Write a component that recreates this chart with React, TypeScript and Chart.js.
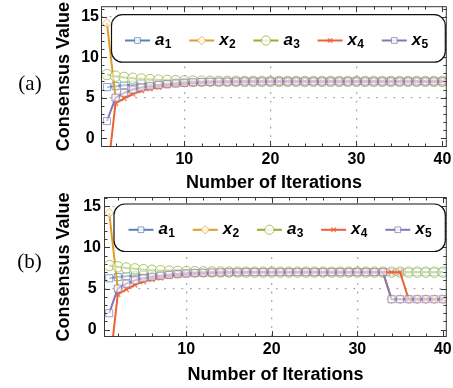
import React, { useEffect, useRef } from 'react';
import { Chart, registerables } from 'chart.js';

Chart.register(...registerables);

// ---------- data ----------
const ITERATIONS = [1, 2, 3, 4, 5, 6, 7, 8, 9, 10, 11, 12, 13, 14, 15, 16, 17, 18, 19, 20,
  21, 22, 23, 24, 25, 26, 27, 28, 29, 30, 31, 32, 33, 34, 35, 36, 37, 38, 39, 40];

// panel (a)
const A1_A = [6.3, 6.42, 6.52, 6.6, 6.67, 6.73, 6.78, 6.83, 6.87, 6.9, 6.92, 6.94, 6.96, 6.97, 6.98, 6.99,
  7.0, 7.0, 7.0, 7.0, 7.0, 7.0, 7.0, 7.0, 7.0, 7.0, 7.0, 7.0, 7.0, 7.0, 7.0, 7.0, 7.0, 7.0, 7.0, 7.0, 7.0, 7.0, 7.0, 7.0];
const X2_A = [14.2, 5.0, 5.6, 6.0, 6.25, 6.45, 6.6, 6.7, 6.78, 6.84, 6.89, 6.93, 6.95, 6.97, 6.98, 6.99,
  7.0, 7.0, 7.0, 7.0, 7.0, 7.0, 7.0, 7.0, 7.0, 7.0, 7.0, 7.0, 7.0, 7.0, 7.0, 7.0, 7.0, 7.0, 7.0, 7.0, 7.0, 7.0, 7.0, 7.0];
const A3_A = [7.85, 7.65, 7.5, 7.4, 7.3, 7.23, 7.17, 7.13, 7.1, 7.07, 7.05, 7.04, 7.03, 7.02, 7.01, 7.01,
  7.0, 7.0, 7.0, 7.0, 7.0, 7.0, 7.0, 7.0, 7.0, 7.0, 7.0, 7.0, 7.0, 7.0, 7.0, 7.0, 7.0, 7.0, 7.0, 7.0, 7.0, 7.0, 7.0, 7.0];
const X4_A = [-5, 4.3, 4.9, 5.45, 5.85, 6.1, 6.3, 6.48, 6.6, 6.7, 6.78, 6.84, 6.88, 6.92, 6.95, 6.97, 6.98, 6.99,
  7.0, 7.0, 7.0, 7.0, 7.0, 7.0, 7.0, 7.0, 7.0, 7.0, 7.0, 7.0, 7.0, 7.0, 7.0, 7.0, 7.0, 7.0, 7.0, 7.0, 7.0, 7.0];
const X5_A = [2.1, 5.0, 5.6, 6.0, 6.25, 6.42, 6.56, 6.67, 6.76, 6.83, 6.88, 6.92, 6.95, 6.97, 6.98, 6.99,
  7.0, 7.0, 7.0, 7.0, 7.0, 7.0, 7.0, 7.0, 7.0, 7.0, 7.0, 7.0, 7.0, 7.0, 7.0, 7.0, 7.0, 7.0, 7.0, 7.0, 7.0, 7.0, 7.0, 7.0];

// panel (b)
const A1_B = [6.25, 6.4, 6.5, 6.6, 6.67, 6.73, 6.78, 6.83, 6.87, 6.9, 6.92, 6.94, 6.96, 6.97, 6.98, 6.99,
  7.0, 7.0, 7.0, 7.0, 7.0, 7.0, 7.0, 7.0, 7.0, 7.0, 7.0, 7.0, 7.0, 7.0, 7.0, 7.0, 7.0, 7.0, 7.0, 7.0, 7.0, 7.0, 7.0, 7.0];
const X2_B = [14.2, 5.0, 5.6, 6.0, 6.25, 6.45, 6.6, 6.7, 6.78, 6.84, 6.89, 6.93, 6.95, 6.97, 6.98, 6.99,
  7.0, 7.0, 7.0, 7.0, 7.0, 7.0, 7.0, 7.0, 7.0, 7.0, 7.0, 7.0, 7.0, 7.0, 7.0, 7.0, 7.0, 3.7, 3.7, 3.7, 3.7, 3.7, 3.7, 3.7];
const A3_B = [7.8, 7.65, 7.5, 7.4, 7.3, 7.23, 7.17, 7.13, 7.1, 7.07, 7.05, 7.04, 7.03, 7.02, 7.01, 7.01,
  7.0, 7.0, 7.0, 7.0, 7.0, 7.0, 7.0, 7.0, 7.0, 7.0, 7.0, 7.0, 7.0, 7.0, 7.0, 7.0, 7.0, 7.0, 7.0, 7.0, 7.0, 7.0, 7.0, 7.0];
const X4_B = [-5, 4.3, 4.9, 5.45, 5.85, 6.1, 6.3, 6.48, 6.6, 6.7, 6.78, 6.84, 6.88, 6.92, 6.95, 6.97, 6.98, 6.99,
  7.0, 7.0, 7.0, 7.0, 7.0, 7.0, 7.0, 7.0, 7.0, 7.0, 7.0, 7.0, 7.0, 7.0, 7.0, 7.0, 7.0, 3.7, 3.7, 3.7, 3.7, 3.7];
const X5_B = [2.0, 5.0, 5.6, 6.0, 6.25, 6.42, 6.56, 6.67, 6.76, 6.83, 6.88, 6.92, 6.95, 6.97, 6.98, 6.99,
  7.0, 7.0, 7.0, 7.0, 7.0, 7.0, 7.0, 7.0, 7.0, 7.0, 7.0, 7.0, 7.0, 7.0, 7.0, 7.0, 7.0, 3.7, 3.7, 3.7, 3.7, 3.7, 3.7, 3.7];

const SERIES_BASE = ['a', 'x', 'a', 'x', 'x'];
const SERIES_SUB = ['1', '2', '3', '4', '5'];
const SERIES_LABELS = ['a₁', 'x₂', 'a₃', 'x₄', 'x₅'];
const SERIES_COLORS = ['#5E81B5', '#E19C24', '#8FB032', '#EB6235', '#8778B3'];
const SERIES_MARKERS = ['rect', 'rectRot', 'circle', 'crossRot', 'rect'];
const MARKER_RADIUS = [5, 4.6, 5.2, 3.6, 5];
const LEGEND_RADIUS = [4, 4.2, 4.6, 3.2, 4];

const X_TICKS = [10, 20, 30, 40];
const Y_TICKS = [0, 5, 10, 15];
const X_GRID = [10, 20, 30];
const Y_GRID = [5, 10, 15];
const X_MINOR = [2, 4, 6, 8, 10, 12, 14, 16, 18, 20, 22, 24, 26, 28, 30, 32, 34, 36, 38, 40];
const Y_MINOR = [-1, 0, 1, 2, 3, 4, 5, 6, 7, 8, 9, 10, 11, 12, 13, 14, 15, 16];

const X_TITLE = 'Number of Iterations';
const Y_TITLE = 'Consensus Value';

const FONT = '"Liberation Sans", Arial, sans-serif';
const FRAME = '#3a3a3a';
const GRID = '#a6a6a6';

// ---------- drawing helpers ----------
function drawMarker(ctx: CanvasRenderingContext2D, style: string, x: number, y: number, r: number, color: string) {
  ctx.save();
  ctx.lineWidth = 1;
  ctx.strokeStyle = color;
  ctx.fillStyle = 'rgba(255,255,255,0.85)';
  ctx.beginPath();
  if (style === 'rect') {
    const s = r * Math.SQRT1_2;
    ctx.rect(x - s, y - s, 2 * s, 2 * s);
    ctx.fill();
    ctx.stroke();
  } else if (style === 'rectRot') {
    ctx.moveTo(x, y - r);
    ctx.lineTo(x + r, y);
    ctx.lineTo(x, y + r);
    ctx.lineTo(x - r, y);
    ctx.closePath();
    ctx.fill();
    ctx.stroke();
  } else if (style === 'circle') {
    ctx.arc(x, y, r, 0, Math.PI * 2);
    ctx.fill();
    ctx.stroke();
  } else {
    const d = r * Math.SQRT1_2;
    ctx.lineWidth = 1.4;
    ctx.moveTo(x - d, y - d);
    ctx.lineTo(x + d, y + d);
    ctx.moveTo(x + d, y - d);
    ctx.lineTo(x - d, y + d);
    ctx.stroke();
  }
  ctx.restore();
}

const decoPlugin = {
  id: 'deco',
  afterDatasetsDraw(chart: any, _args: any, opts: any) {
    const { ctx, chartArea } = chart;
    const { left, right, top, bottom } = chartArea;
    const xs = chart.scales.x;
    const ys = chart.scales.y;
    ctx.save();

    // inward frame ticks on all four sides
    ctx.strokeStyle = FRAME;
    ctx.lineWidth = 1;
    ctx.beginPath();
    X_MINOR.forEach((v) => {
      if (v < xs.min || v > xs.max) return;
      const p = Math.round(xs.getPixelForValue(v)) + 0.5;
      const l = X_TICKS.includes(v) ? 6 : 3.5;
      ctx.moveTo(p, bottom);
      ctx.lineTo(p, bottom - l);
      ctx.moveTo(p, top);
      ctx.lineTo(p, top + l);
    });
    Y_MINOR.forEach((v) => {
      if (v < ys.min || v > ys.max) return;
      const p = Math.round(ys.getPixelForValue(v)) + 0.5;
      const l = Y_TICKS.includes(v) ? 6 : 3.5;
      ctx.moveTo(left, p);
      ctx.lineTo(left + l, p);
      ctx.moveTo(right, p);
      ctx.lineTo(right - l, p);
    });
    ctx.stroke();
    ctx.strokeRect(left + 0.5, top + 0.5, right - left - 1, bottom - top - 1);

    // legend box
    const bx = left + opts.legendInset;
    const by = top + opts.legendTop;
    const bw = right - 2 - bx;
    const bh = 47.5;
    ctx.beginPath();
    ctx.roundRect(bx + 0.5, by + 0.5, bw, bh, 11);
    ctx.fillStyle = '#ffffff';
    ctx.fill();
    ctx.strokeStyle = '#111111';
    ctx.lineWidth = 1.2;
    ctx.stroke();

    const ly = by + 26.3;
    chart.data.datasets.forEach((ds: any, i: number) => {
      const lx = bx + opts.legendFirst + i * 64.2;
      ctx.beginPath();
      ctx.strokeStyle = ds.borderColor;
      ctx.lineWidth = 2;
      ctx.moveTo(lx, ly);
      ctx.lineTo(lx + 25, ly);
      ctx.stroke();
      drawMarker(ctx, SERIES_MARKERS[i], lx + 12.5, ly, LEGEND_RADIUS[i], ds.borderColor + 'C0');
      ctx.fillStyle = '#000';
      ctx.textAlign = 'left';
      ctx.textBaseline = 'alphabetic';
      ctx.font = `italic bold 17px ${FONT}`;
      const tx = lx + 30;
      ctx.fillText(SERIES_BASE[i], tx, ly + 4.6);
      const w = ctx.measureText(SERIES_BASE[i]).width;
      ctx.font = `bold 12px ${FONT}`;
      ctx.fillText(SERIES_SUB[i], tx + w + 0.3, ly + 7.4);
    });

    // panel label
    ctx.fillStyle = '#000';
    ctx.font = '21px "Liberation Serif", "Times New Roman", serif';
    ctx.textAlign = 'center';
    ctx.textBaseline = 'alphabetic';
    ctx.fillText(opts.label, opts.labelX, opts.labelY);
    ctx.restore();
  },
};

type PanelCfg = {
  series: number[][];
  xMin: number; xMax: number; yMin: number; yMax: number;
  padLeft: number; padTop: number; padRight: number;
  yAxisWidth: number; xAxisHeight: number;
  label: string; labelX: number; labelY: number;
  legendInset: number; legendTop: number; legendFirst: number;
  tickPad: number;
};

function buildConfig(p: PanelCfg): any {
  const datasets = p.series.map((vals, i) => ({
    label: SERIES_LABELS[i],
    data: ITERATIONS.map((it, k) => ({ x: it, y: vals[k] })),
    borderColor: SERIES_COLORS[i],
    backgroundColor: SERIES_COLORS[i],
    borderWidth: 2,
    tension: 0,
    pointStyle: SERIES_MARKERS[i],
    pointRadius: MARKER_RADIUS[i],
    pointBorderColor: SERIES_COLORS[i] + 'B8',
    pointBackgroundColor: 'rgba(255,255,255,0.55)',
    pointBorderWidth: SERIES_MARKERS[i] === 'crossRot' ? 1.5 : 1,
    order: 5 - i,
  }));
  const tickFont = { family: FONT, size: 16, weight: 'bold' };
  const titleFont = { family: FONT, size: 18, weight: 'bold' };
  return {
    type: 'line',
    data: { datasets },
    plugins: [decoPlugin],
    options: {
      responsive: false,
      animation: false,
      events: [],
      layout: { padding: { left: p.padLeft, top: p.padTop, right: p.padRight, bottom: 0 } },
      plugins: {
        legend: { display: false },
        tooltip: { enabled: false },
        deco: {
          label: p.label, labelX: p.labelX, labelY: p.labelY,
          legendInset: p.legendInset, legendTop: p.legendTop, legendFirst: p.legendFirst,
        },
      },
      scales: {
        x: {
          type: 'linear',
          min: p.xMin,
          max: p.xMax,
          afterBuildTicks: (s: any) => { s.ticks = X_TICKS.map((v) => ({ value: v })); },
          afterFit: (s: any) => { s.height = p.xAxisHeight; s.paddingLeft = 0; s.paddingRight = 0; },
          grid: {
            drawTicks: false,
            lineWidth: 1.3,
            color: (c: any) => (c.tick && X_GRID.includes(c.tick.value) ? GRID : 'rgba(0,0,0,0)'),
          },
          border: { display: false, dash: [1.8, 6.8] },
          ticks: { font: tickFont, color: '#000', padding: 3, maxRotation: 0, autoSkip: false },
          title: { display: true, text: X_TITLE, font: titleFont, color: '#000', padding: 0 },
        },
        y: {
          type: 'linear',
          min: p.yMin,
          max: p.yMax,
          afterBuildTicks: (s: any) => { s.ticks = Y_TICKS.map((v) => ({ value: v })); },
          afterFit: (s: any) => { s.width = p.yAxisWidth; s.paddingTop = 0; s.paddingBottom = 0; },
          grid: {
            drawTicks: false,
            lineWidth: 1.3,
            color: (c: any) => (c.tick && Y_GRID.includes(c.tick.value) ? GRID : 'rgba(0,0,0,0)'),
          },
          border: { display: false, dash: [1.8, 6.8] },
          ticks: { font: tickFont, color: '#000', padding: p.tickPad, crossAlign: 'center', autoSkip: false },
          title: { display: true, text: Y_TITLE, font: titleFont, color: '#000', padding: 0 },
        },
      },
    },
  };
}

const PANEL_A: PanelCfg = {
  series: [A1_A, X2_A, A3_A, X4_A, X5_A],
  xMin: 0.31, xMax: 40.5, yMin: -1.1, yMax: 16.3,
  padLeft: 53, padTop: 6, padRight: 2,
  yAxisWidth: 48, xAxisHeight: 47,
  label: '(a)', labelX: 30, labelY: 89.5,
  legendInset: 10, legendTop: 8, legendFirst: 14,
  tickPad: 2,
};

const PANEL_B: PanelCfg = {
  series: [A1_B, X2_B, A3_B, X4_B, X5_B],
  xMin: 0.39, xMax: 40.46, yMin: -0.9, yMax: 16.15,
  padLeft: 53, padTop: 7, padRight: 1,
  yAxisWidth: 51, xAxisHeight: 49,
  label: '(b)', labelX: 29.5, labelY: 78,
  legendInset: 9.5, legendTop: 6.5, legendFirst: 15,
  tickPad: 3,
};

function Panel({ top, height, cfg }: { top: number; height: number; cfg: PanelCfg }) {
  const ref = useRef<HTMLCanvasElement>(null);
  useEffect(() => {
    const chart = new Chart(ref.current as HTMLCanvasElement, buildConfig(cfg));
    return () => chart.destroy();
  }, [cfg]);
  return (
    <canvas
      ref={ref}
      width={453}
      height={height}
      style={{ position: 'absolute', left: 0, top, width: 453, height, display: 'block' }}
    />
  );
}

export default function App() {
  return (
    <div style={{ position: 'absolute', left: 0, top: 0, width: 453, height: 388, background: '#fff', overflow: 'hidden' }}>
      <Panel top={0} height={194} cfg={PANEL_A} />
      <Panel top={190} height={196} cfg={PANEL_B} />
    </div>
  );
}
